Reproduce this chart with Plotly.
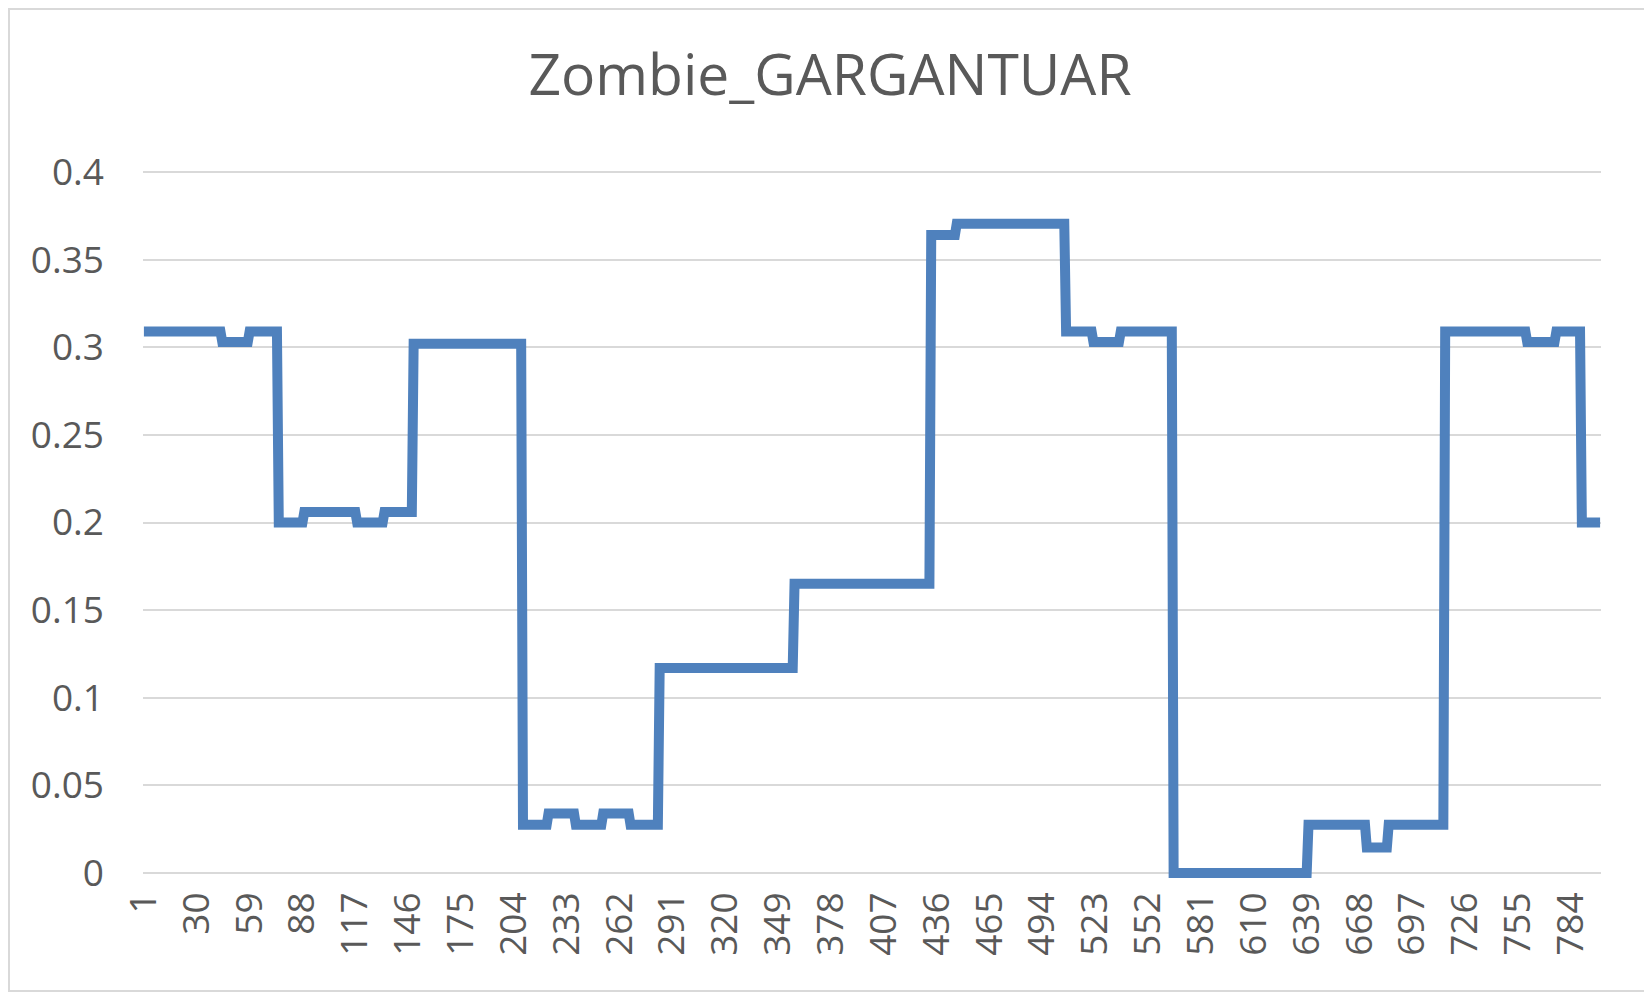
import plotly.graph_objects as go

# Run-length segments (category start, end, value)
seg_start = [1, 44, 59, 75, 89, 118, 133, 149, 209, 223, 238, 253, 268, 284, 358, 433, 447, 507, 522, 537, 566, 640, 672, 684, 715, 760, 776, 790]
seg_end   = [43, 58, 74, 88, 117, 132, 148, 208, 222, 237, 252, 267, 283, 357, 432, 446, 506, 521, 536, 565, 639, 671, 683, 714, 759, 775, 789, 800]
seg_value = [0.309, 0.303, 0.309, 0.2, 0.206, 0.2, 0.206, 0.302, 0.0275, 0.034, 0.0275, 0.034, 0.0275, 0.117, 0.165, 0.364, 0.3705, 0.309, 0.303, 0.309, 0.0, 0.0275, 0.0145, 0.0275, 0.309, 0.303, 0.309, 0.2]

x_tick_labels = ["1", "30", "59", "88", "117", "146", "175", "204", "233", "262", "291", "320", "349", "378",
                 "407", "436", "465", "494", "523", "552", "581", "610", "639", "668", "697", "726", "755", "784"]
y_tick_vals = [0, 0.05, 0.1, 0.15, 0.2, 0.25, 0.3, 0.35, 0.4]
y_tick_text = ["0", "0.05", "0.1", "0.15", "0.2", "0.25", "0.3", "0.35", "0.4"]

categories = []
values = []
for s, e, v in zip(seg_start, seg_end, seg_value):
    for c in range(s, e + 1):
        categories.append(c)
        values.append(v)

# page has an 8px body margin, so the figure is shrunk/shifted to compensate
OFF = 8
W, H = 1652 - OFF, 993 - OFF
ML, MR, MT, MB = 143 - OFF, 51, 165 - OFF, 113
PW = W - ML - MR
PH = H - MT - MB

fig = go.Figure()
fig.add_trace(go.Scatter(
    x=categories, y=values, mode="lines",
    line=dict(color="#4F81BD", width=10),
    hoverinfo="x+y", showlegend=False,
))

font_family = "Open Sans"
fig.update_layout(
    width=W, height=H,
    margin=dict(l=ML, r=MR, t=MT, b=MB),
    paper_bgcolor="white", plot_bgcolor="white",
    title=dict(text="Zombie_GARGANTUAR", x=0.5, xref="container", xanchor="center",
               y=1 - 67.5 / H, yref="container", yanchor="middle",
               font=dict(family=font_family, size=57, color="#595959")),
    font=dict(family=font_family, color="#595959"),
    xaxis=dict(
        range=[0.5, 800.5], tickmode="array",
        tickvals=[int(t) for t in x_tick_labels], ticktext=x_tick_labels,
        tickangle=-90, tickfont=dict(size=37, color="#595959"),
        showgrid=False, zeroline=False, showline=False, ticks="",
        ticklabelstandoff=4,
    ),
    yaxis=dict(
        range=[-0.004, 0.404], tickmode="array",
        tickvals=y_tick_vals, ticktext=y_tick_text,
        tickfont=dict(size=37, color="#595959"),
        showgrid=True, gridcolor="#D9D9D9", gridwidth=2,
        zeroline=False, showline=False, ticks="",
        ticklabelstandoff=38,
    ),
    shapes=[dict(
        type="rect", xref="paper", yref="paper",
        x0=(1 - ML) / PW, x1=(W - 2 - ML) / PW,
        y0=-(MB - 2) / PH,
        y1=1 + (MT - 1) / PH,
        line=dict(color="#D9D9D9", width=2), fillcolor="rgba(0,0,0,0)", layer="below",
    )],
)

fig.write_html("out.html")
